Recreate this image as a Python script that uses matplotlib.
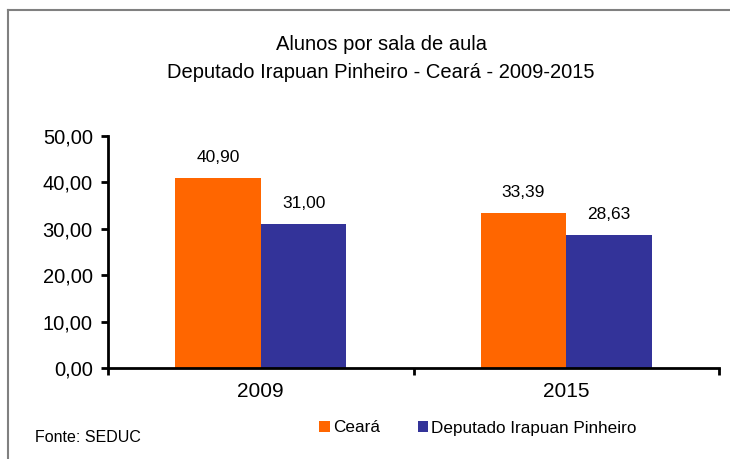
import matplotlib
matplotlib.use("Agg")
import matplotlib.pyplot as plt
import numpy as np

years = ["2009", "2015"]
ceara = [40.90, 33.39]
deputado = [31.00, 28.63]
series_names = ["Ceará", "Deputado Irapuan Pinheiro"]
colors = ["#FF6600", "#333399"]

plt.rcParams['font.family'] = ['Liberation Sans', 'DejaVu Sans']

fig = plt.figure(figsize=(7.30, 4.59), dpi=100)
ax = fig.add_axes([0.148, 0.198, 0.837, 0.506])

# outer frame of the chart area (only top and left visible)
fig.add_artist(plt.Line2D([8/730, 1.0], [1-10/459, 1-10/459], color="#808080", lw=1.5))
fig.add_artist(plt.Line2D([8/730, 8/730], [0.0, 1-10/459], color="#808080", lw=1.5))

x = np.arange(len(years))
w = 0.28
b1 = ax.bar(x - w/2, ceara, w, color=colors[0], label=series_names[0])
b2 = ax.bar(x + w/2, deputado, w, color=colors[1], label=series_names[1])

for bars, vals in [(b1, ceara), (b2, deputado)]:
    for r, v in zip(bars, vals):
        ax.text(r.get_x() + r.get_width()/2, v + 2.8, "{:.2f}".format(v).replace(".", ","),
                ha="center", va="bottom", fontsize=12.5)

ax.set_xlim(-0.5, 1.5)
ax.set_ylim(0, 50)
ax.set_yticks(np.arange(0, 51, 10))
ax.set_yticklabels(["{:.2f}".format(t).replace(".", ",") for t in np.arange(0, 51, 10)], fontsize=14.5)
ax.set_xticks([-0.5, 0.5, 1.5])
ax.set_xticklabels(["", "", ""])
ax.tick_params(axis="x", length=5, width=2, direction="out")
for i, y in enumerate(years):
    ax.text(x[i], -3.0, y, ha="center", va="top", fontsize=15)
ax.tick_params(axis="y", length=5, width=2, direction="out", pad=6)
for s in ["top", "right"]:
    ax.spines[s].set_visible(False)
ax.spines["left"].set_linewidth(2)
ax.spines["bottom"].set_linewidth(2)

fig.text(0.522, 1-45/459, "Alunos por sala de aula", ha="center", va="center", fontsize=14.5)
fig.text(0.522, 1-72/459, "Deputado Irapuan Pinheiro - Ceará - 2009-2015", ha="center", va="center", fontsize=14.5)

ax.legend(loc="center", bbox_to_anchor=(478/730, 1-428/459), bbox_transform=fig.transFigure,
          ncol=2, frameon=False, fontsize=12.3, handlelength=0.6, handleheight=0.6,
          handletextpad=0.2, columnspacing=2.2)

fig.text(35/730, 1-437/459, "Fonte: SEDUC", ha="left", va="center", fontsize=11.5)

plt.savefig("out.png", dpi=100)
